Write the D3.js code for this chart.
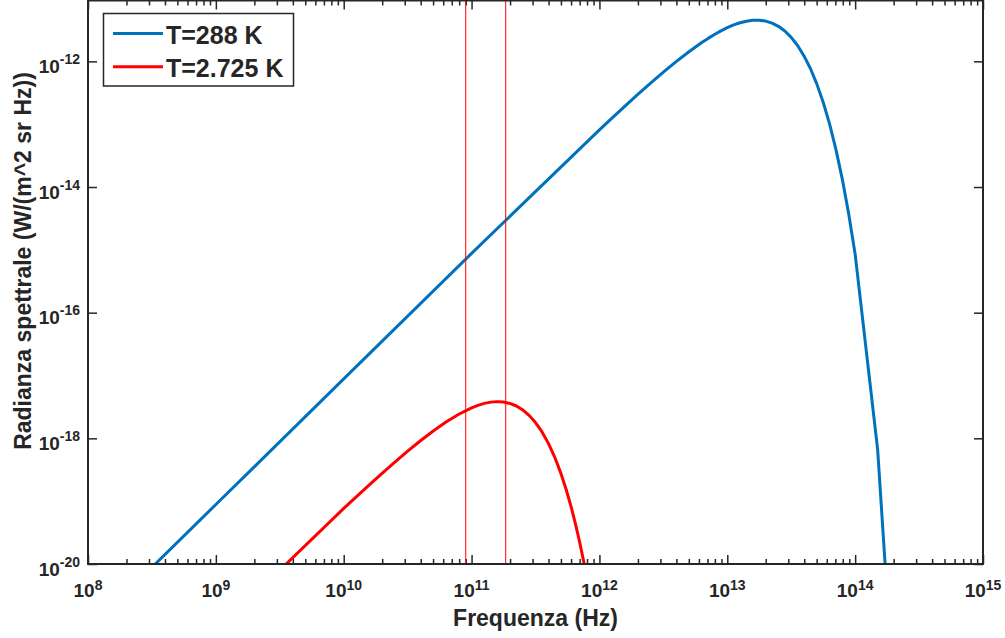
<!DOCTYPE html>
<html><head><meta charset="utf-8">
<script src="https://cdn.jsdelivr.net/npm/d3@7"></script>
<style>
body{margin:0;background:#fff}
svg{display:block}
text{font-family:"Liberation Sans",Arial,sans-serif;font-weight:bold;fill:#262626}
</style>
</head><body>
<svg id="chart" width="1005" height="638"></svg>
<script>
// Frequencies (Hz) and spectral radiance (W/(m^2 sr Hz))
const blueFreq = [1e8, 1e9, 1e10, 1e11, 1e12, 1.259e12, 1.585e12, 1.995e12, 2.512e12, 3.162e12, 3.981e12, 5.012e12, 6.31e12, 7.079e12, 7.943e12, 8.913e12,
  1e13, 1.122e13, 1.259e13, 1.413e13, 1.585e13, 1.778e13, 1.995e13, 2.239e13, 2.512e13, 2.818e13, 3.162e13, 3.548e13, 3.981e13, 4.467e13, 5.012e13, 5.623e13, 6.31e13, 7.079e13, 7.943e13, 8.913e13,
  1e14, 1.5e14, 2e14];
const blueRad = [8.85e-22, 8.85e-20, 8.84e-18, 8.78e-16, 8.13e-14, 1.26e-13, 1.94e-13, 2.97e-13, 4.50e-13, 6.72e-13, 9.88e-13, 1.42e-12, 1.99e-12, 2.32e-12, 2.68e-12, 3.06e-12,
  3.43e-12, 3.80e-12, 4.12e-12, 4.36e-12, 4.51e-12, 4.52e-12, 4.37e-12, 4.06e-12, 3.61e-12, 3.04e-12, 2.41e-12, 1.79e-12, 1.22e-12, 7.69e-13, 4.38e-13, 2.23e-13, 1.01e-13, 3.94e-14, 1.32e-14, 3.70e-15,
  8.54e-16, 6.6e-19, 8.3e-23];

const redFreq = [1e9, 1e10, 1.259e10, 1.585e10, 1.995e10, 2.512e10, 3.162e10, 3.981e10, 5.012e10, 6.31e10, 7.943e10,
  1e11, 1.122e11, 1.259e11, 1.413e11, 1.585e11, 1.778e11, 1.995e11, 2.239e11, 2.512e11, 2.818e11, 3.162e11, 3.548e11, 3.981e11, 4.467e11, 5.012e11,
  5.5e11, 6e11, 6.5e11, 7e11, 7.5e11, 8e11, 1e12];
const redRad = [8.30e-22, 7.66e-20, 1.185e-19, 1.823e-19, 2.78e-19, 4.20e-19, 6.26e-19, 9.16e-19, 1.310e-18, 1.817e-18, 2.42e-18,
  3.06e-18, 3.35e-18, 3.60e-18, 3.77e-18, 3.84e-18, 3.78e-18, 3.59e-18, 3.27e-18, 2.84e-18, 2.32e-18, 1.78e-18, 1.275e-18, 8.39e-19, 5.04e-19, 2.72e-19,
  1.52e-19, 8.20e-20, 4.32e-20, 2.24e-20, 1.14e-20, 5.74e-21, 3.31e-22];

const markerFreq = [9e10, 1.85e11];
const xTickExps = [8, 9, 10, 11, 12, 13, 14, 15];
const yTickExps = [-20, -18, -16, -14, -12];
const legendLabels = ["T=288 K", "T=2.725 K"];
const seriesColors = ["#0072BD", "#FF0000"];
const xLabel = "Frequenza (Hz)";
const yLabel = "Radianza spettrale (W/(m^2 sr Hz))";

const svg = d3.select("#chart");
svg.append("rect").attr("width", 1005).attr("height", 638).attr("fill", "#fff");

const L = 88, R = 983, T = 0.5, B = 564;
const x = d3.scaleLog().domain([1e8, 1e15]).range([L, R]);
const y = d3.scaleLog().domain([1e-20, 9.3e-12]).range([B, T]);
const axisColor = "#262626";

svg.append("clipPath").attr("id", "clip").append("rect")
  .attr("x", L).attr("y", T).attr("width", R - L).attr("height", B - T);

const majorX = xTickExps.map(e => Math.pow(10, e));
const minorX = [];
for (let e = 8; e < 15; e++) for (let m = 2; m <= 9; m++) minorX.push(m * Math.pow(10, e));
const majorY = yTickExps.map(e => Math.pow(10, e));

function styleAxis(g) {
  g.select(".domain").remove();
  g.selectAll(".tick line").attr("stroke", axisColor).attr("stroke-width", 1.5);
  g.selectAll(".tick text").remove();
}
svg.append("g").attr("transform", `translate(0,${B})`).call(d3.axisBottom(x).tickValues(majorX).tickSize(-9).tickFormat("")).call(styleAxis);
svg.append("g").attr("transform", `translate(0,${B})`).call(d3.axisBottom(x).tickValues(minorX).tickSize(-5).tickFormat("")).call(styleAxis);
svg.append("g").attr("transform", `translate(0,${T})`).call(d3.axisTop(x).tickValues(majorX).tickSize(-9).tickFormat("")).call(styleAxis);
svg.append("g").attr("transform", `translate(0,${T})`).call(d3.axisTop(x).tickValues(minorX).tickSize(-5).tickFormat("")).call(styleAxis);
svg.append("g").attr("transform", `translate(${L},0)`).call(d3.axisLeft(y).tickValues(majorY).tickSize(-9).tickFormat("")).call(styleAxis);
svg.append("g").attr("transform", `translate(${R},0)`).call(d3.axisRight(y).tickValues(majorY).tickSize(-9).tickFormat("")).call(styleAxis);

// curves
const plot = svg.append("g").attr("clip-path", "url(#clip)");
const line = d3.line().x(d => x(d[0])).y(d => y(d[1]));
const series = [d3.zip(blueFreq, blueRad), d3.zip(redFreq, redRad)];
series.forEach((s, i) => {
  plot.append("path").datum(s).attr("d", line).attr("fill", "none")
    .attr("stroke", seriesColors[i]).attr("stroke-width", 3).attr("stroke-linejoin", "round");
});
markerFreq.forEach(f => {
  plot.append("line").attr("x1", x(f)).attr("x2", x(f)).attr("y1", T).attr("y2", B)
    .attr("stroke", "#FF0000").attr("stroke-width", 1);
});

// frame
svg.append("rect").attr("x", L).attr("y", T).attr("width", R - L).attr("height", B - T)
  .attr("fill", "none").attr("stroke", axisColor).attr("stroke-width", 2);

// tick labels
xTickExps.forEach(e => {
  const t = svg.append("text").attr("x", x(Math.pow(10, e))).attr("y", 597).attr("text-anchor", "middle").style("font-size", "19px");
  t.append("tspan").text("10");
  t.append("tspan").attr("dy", -7.5).style("font-size", "14px").text(e);
});
yTickExps.forEach(e => {
  const t = svg.append("text").attr("x", 80).attr("y", y(Math.pow(10, e)) + 11.5).attr("text-anchor", "end").style("font-size", "19px");
  t.append("tspan").text("10");
  t.append("tspan").attr("dy", -9).style("font-size", "14px").text(e);
});

// axis labels
svg.append("text").attr("x", (L + R) / 2).attr("y", 626).attr("text-anchor", "middle").style("font-size", "23px").text(xLabel);
svg.append("text").attr("transform", "translate(30.5,261) rotate(-90)").attr("text-anchor", "middle").style("font-size", "23px").text(yLabel);

// legend
const lg = svg.append("g");
lg.append("rect").attr("x", 103.5).attr("y", 13.5).attr("width", 190).attr("height", 72.5)
  .attr("fill", "#fff").attr("stroke", axisColor).attr("stroke-width", 1.5);
legendLabels.forEach((lab, i) => {
  const yy = 33.5 + i * 33.3;
  lg.append("line").attr("x1", 113).attr("x2", 163).attr("y1", yy).attr("y2", yy)
    .attr("stroke", seriesColors[i]).attr("stroke-width", 3);
  lg.append("text").attr("x", 166).attr("y", yy + 10.5).style("font-size", "25px").text(lab);
});
</script>
</body></html>
